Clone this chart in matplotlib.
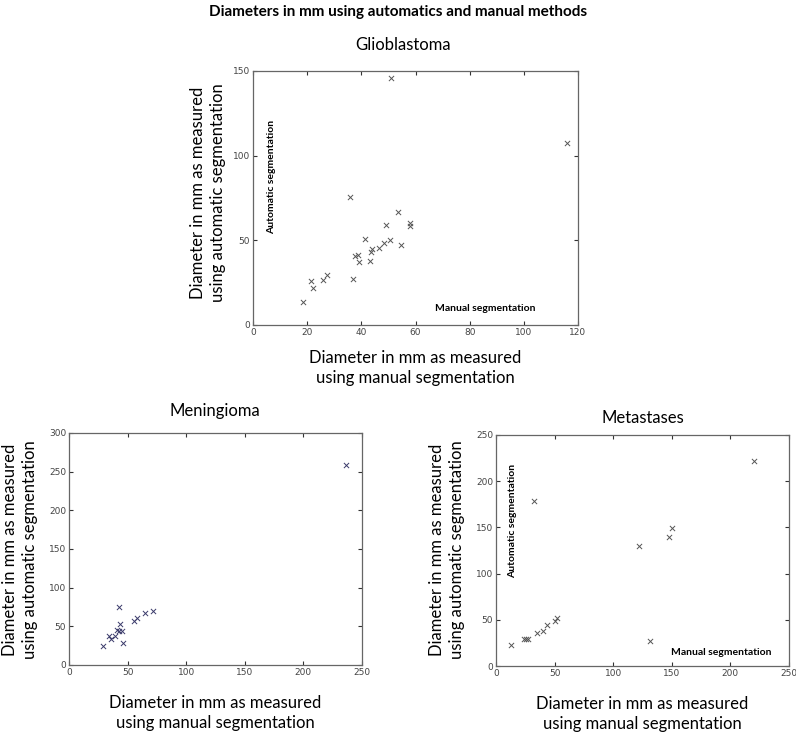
import matplotlib
matplotlib.use('Agg')
from matplotlib import pyplot as plt

# Glioblastoma (manual, automatic) diameters in mm
glioManual = [51.1, 116.1, 35.7, 53.5, 49.0, 57.8, 58.1, 41.5, 50.5, 48.5, 54.8, 46.6,
              44.1, 43.4, 38.9, 37.7, 39.0, 43.2, 37.0, 27.2, 25.7, 21.5, 22.3, 18.6]
glioAuto = [145.7, 107.7, 75.8, 66.5, 59.3, 60.0, 58.5, 50.8, 50.0, 48.6, 47.2, 45.7,
            44.9, 42.9, 41.5, 40.9, 37.2, 38.0, 27.4, 29.5, 26.4, 26.2, 22.0, 13.8]

# Meningioma
meninManual = [28.8, 34.3, 36.0, 38.9, 41.2, 42.3, 43.5, 42.9, 45.5, 46.3, 55.6, 57.6,
               64.8, 71.4, 236.0]
meninAuto = [24.0, 36.9, 33.9, 36.9, 45.5, 75.1, 52.8, 44.2, 44.2, 28.8, 57.5, 61.4,
             67.4, 70.0, 258.0]

# Metastases
metaManual = [12.5, 24.1, 25.3, 27.0, 34.9, 40.1, 43.2, 50.0, 51.7, 32.7, 122.4, 147.2,
              150.0, 131.5, 220.2]
metaAuto = [22.4, 29.6, 29.6, 28.9, 35.4, 37.6, 44.1, 49.1, 52.0, 178.5, 130.1, 139.1,
            149.2, 27.5, 222.2]

W, H = 796, 737
labFont = 'Lato'
xlab = 'Diameter in mm as measured\nusing manual segmentation'
ylab = 'Diameter in mm as measured\nusing automatic segmentation'


def box(l, t, r, b):
    return [l / W, 1 - b / H, (r - l) / W, (b - t) / H]


def ftext(x, y, s, **kw):
    # place text at pixel position (from top-left)
    return fig.text(x / W, 1 - y / H, s, ha='center', va='center', family=labFont, **kw)


def setup(ax, xs, ys, xmax, ymax, step_x, step_y, col):
    ax.scatter(xs, ys, marker='x', s=14, linewidths=0.7, color=col)
    ax.set_xlim(0, xmax)
    ax.set_ylim(0, ymax)
    ax.set_xticks(range(0, xmax + 1, step_x))
    ax.set_yticks(range(0, ymax + 1, step_y))
    ax.tick_params(direction='in', top=True, right=True, length=3, width=0.8,
                   labelsize=6.5, labelcolor='#444444', color='#333333', pad=2)
    for s in ax.spines.values():
        s.set_color('#666666')
        s.set_linewidth(0.9)


fig = plt.figure(figsize=(W / 100, H / 100), dpi=100)
ftext(398, 12, 'Diameters in mm using automatics and manual methods',
      fontsize=11, fontweight='bold')

# Glioblastoma
ax1 = fig.add_axes(box(253, 71, 578, 325))
setup(ax1, glioManual, glioAuto, 120, 150, 20, 50, '#555555')
ftext(403, 45, 'Glioblastoma', fontsize=12)
ftext(415, 368, xlab, fontsize=12, linespacing=1.35)
ftext(208, 193, ylab, fontsize=12, linespacing=1.35, rotation=90)
ax1.text(0.058, 0.583, 'Automatic segmentation', transform=ax1.transAxes, rotation=90,
         ha='center', va='center', fontsize=7.5, fontweight='bold', family=labFont)
ax1.text(0.715, 0.065, 'Manual segmentation', transform=ax1.transAxes,
         ha='center', va='center', fontsize=7.5, fontweight='bold', family=labFont)

# Meningioma
ax2 = fig.add_axes(box(69, 433, 362, 665))
setup(ax2, meninManual, meninAuto, 250, 300, 50, 50, '#3a3a6a')
ftext(215, 411, 'Meningioma', fontsize=12)
ftext(215, 713, xlab, fontsize=12, linespacing=1.35)
ftext(20, 550, ylab, fontsize=12, linespacing=1.35, rotation=90)

# Metastases
ax3 = fig.add_axes(box(496, 435, 789, 666))
setup(ax3, metaManual, metaAuto, 250, 250, 50, 50, '#555555')
ftext(643, 418, 'Metastases', fontsize=12)
ftext(642, 714, xlab, fontsize=12, linespacing=1.35)
ftext(447, 550, ylab, fontsize=12, linespacing=1.35, rotation=90)
ax3.text(0.058, 0.628, 'Automatic segmentation', transform=ax3.transAxes, rotation=90,
         ha='center', va='center', fontsize=7.5, fontweight='bold', family=labFont)
ax3.text(0.77, 0.06, 'Manual segmentation', transform=ax3.transAxes,
         ha='center', va='center', fontsize=7.5, fontweight='bold', family=labFont)

fig.savefig('out.png', dpi=100)
